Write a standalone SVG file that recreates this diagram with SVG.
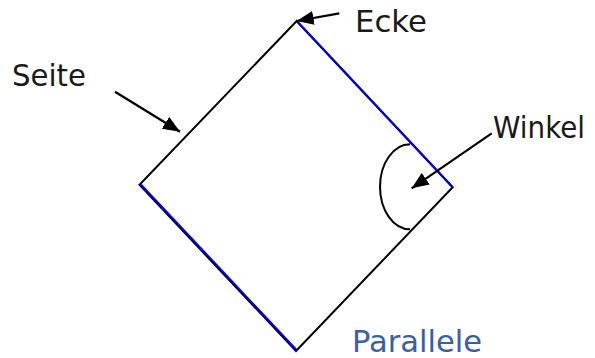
<svg xmlns="http://www.w3.org/2000/svg" width="595" height="358" viewBox="0 0 595 358">
<style>
.edge{fill:none;stroke:#000;stroke-width:2}
.par{fill:none;stroke:#0000e0;stroke-width:2}
.arr{fill:none;stroke:#000;stroke-width:2.2}
.lbl{font-family:"DejaVu Sans","Liberation Sans",sans-serif;font-size:31px;fill:#1a1a1a}
.blue{fill:#3a5da8}
</style>
<defs>
<marker id="ah" viewBox="0 0 17 14" refX="17" refY="7" markerWidth="17" markerHeight="14" markerUnits="userSpaceOnUse" orient="auto">
<path d="M0,0 L17,7 L0,14 Z" fill="#000"/>
</marker>
</defs>
<rect width="595" height="358" fill="#fff"/>
<g id="square">
<polygon class="edge" points="296.7,21 452.7,187.3 296,351 139.5,184.8"/>
<path class="par" d="M296.7,21 L452.7,187.3"/>
<path class="par" d="M140.6,184.2 L296.8,350.2"/>
<path id="winkel-arc" class="edge" d="M410,144.3 A30 42.5 0 0 0 410,229.3"/>
</g>
<g id="connectors">
<line class="arr" x1="339.3" y1="13.3" x2="296.7" y2="21" marker-end="url(#ah)"/>
<line class="arr" x1="491.7" y1="133.3" x2="411.7" y2="188.3" marker-end="url(#ah)"/>
<line class="arr" x1="115" y1="91.7" x2="180" y2="131.7" marker-end="url(#ah)"/>
</g>
<g id="label-ecke"><text class="lbl" x="355" y="32.3" textLength="72" lengthAdjust="spacingAndGlyphs">Ecke</text></g>
<g id="label-seite"><text class="lbl" x="12" y="85.7" textLength="74" lengthAdjust="spacingAndGlyphs">Seite</text></g>
<g id="label-winkel"><text class="lbl" x="493" y="137.7" textLength="92" lengthAdjust="spacingAndGlyphs">Winkel</text></g>
<g id="label-parallele"><text class="lbl blue" x="352" y="351.7" textLength="130" lengthAdjust="spacingAndGlyphs">Parallele</text></g>
</svg>
